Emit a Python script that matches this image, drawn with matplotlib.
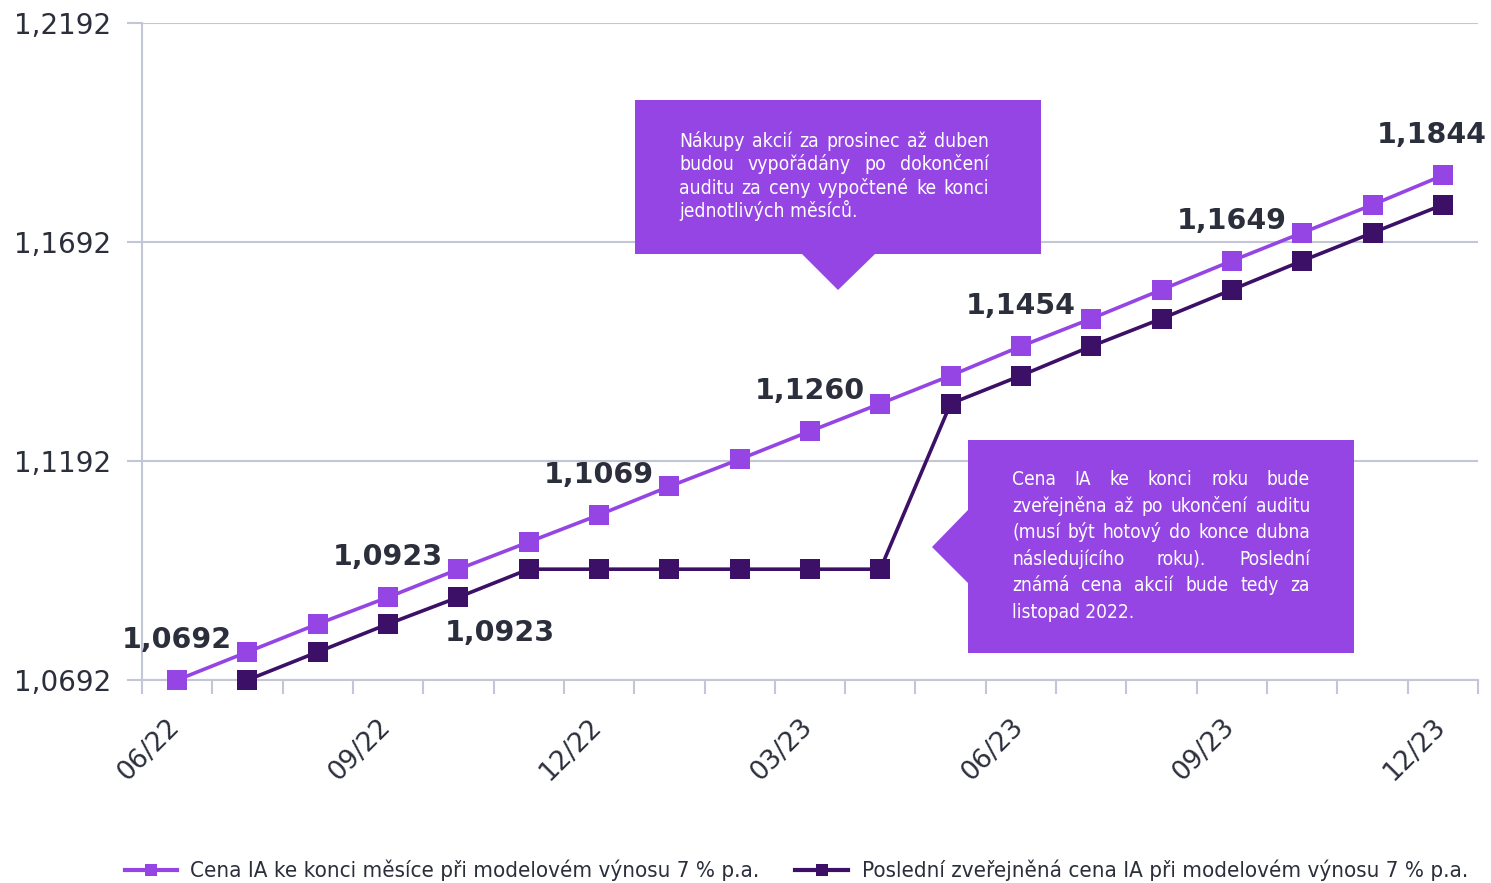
import numpy as np
import matplotlib
matplotlib.use('Agg')
import matplotlib.pyplot as plt
from matplotlib.patches import Polygon
from matplotlib.lines import Line2D
import matplotlib.transforms as mtransforms
from matplotlib import font_manager

# ---------------- data ----------------
months = ['06/22', '07/22', '08/22', '09/22', '10/22', '11/22', '12/22',
          '01/23', '02/23', '03/23', '04/23', '05/23', '06/23', '07/23',
          '08/23', '09/23', '10/23', '11/23', '12/23']
price_month_end = [1.0692, 1.0756, 1.0820, 1.0881, 1.0945, 1.1007, 1.1069,
                   1.1134, 1.1196, 1.1260, 1.1323, 1.1387, 1.1454, 1.1517,
                   1.1583, 1.1649, 1.1713, 1.1777, 1.1844]
price_last_published = [np.nan, 1.0692, 1.0756, 1.0820, 1.0881, 1.0945, 1.0945,
                        1.0945, 1.0945, 1.0945, 1.0945, 1.1323, 1.1387, 1.1454,
                        1.1517, 1.1583, 1.1649, 1.1713, 1.1777]
upper_label_idx = [0, 3, 6, 9, 12, 15, 18]
upper_label_text = ['1,0692', '1,0923', '1,1069', '1,1260', '1,1454', '1,1649', '1,1844']
lower_label_idx = [4]
lower_label_text = ['1,0923']
y_ticks = [1.0692, 1.1192, 1.1692, 1.2192]
x_label_idx = [0, 3, 6, 9, 12, 15, 18]
series_names = ['Cena IA ke konci měsíce při modelovém výnosu 7 % p.a.',
                'Poslední zveřejněná cena IA při modelovém výnosu 7 % p.a.']
note1_lines = ['Nákupy akcií za prosinec až duben',
               'budou vypořádány po dokončení',
               'auditu za ceny vypočtené ke konci',
               'jednotlivých měsíců.']
note2_lines = ['Cena IA ke konci roku bude',
               'zveřejněna až po ukončení auditu',
               '(musí být hotový do konce dubna',
               'následujícího roku). Poslední',
               'známá cena akcií bude tedy za',
               'listopad 2022.']

# ---------------- style ----------------
C1 = '#9445E3'
C2 = '#3D1068'
BOX = '#9445E3'
GRID = '#C3C6D6'
TXT = '#2B2F3B'

plt.rcParams['font.family'] = ['DejaVu Sans']

W, H = 1491, 883
fig = plt.figure(figsize=(W / 100, H / 100), dpi=100)
fig.patch.set_facecolor('white')


def fx(x):
    return x / W


def fy(y):
    return 1 - y / H


has_cond = any(f.name == 'DejaVu Sans' and f.stretch == 'condensed'
               for f in font_manager.fontManager.ttflist)
stretch = 'condensed' if has_cond else 'normal'

ax = fig.add_axes([fx(142), fy(680), (1478 - 142) / W, (680 - 23) / H])
x = np.arange(len(months))

ax.plot(x, price_month_end, color=C1, lw=2.6, marker='s', ms=14, mew=0,
        clip_on=False, zorder=4)
ax.plot(x, price_last_published, color=C2, lw=2.6, marker='s', ms=14, mew=0,
        clip_on=False, zorder=4)

ax.set_xlim(-0.5, len(months) - 0.5)
ax.set_ylim(y_ticks[0], y_ticks[-1])
ax.set_yticks(y_ticks)
ax.set_yticklabels([f'{v:.4f}'.replace('.', ',') for v in y_ticks])
ax.yaxis.grid(True, color=GRID, lw=1.5, zorder=0)
ax.set_axisbelow(True)
ax.tick_params(axis='y', length=11, width=1.5, color=GRID, pad=11,
               labelsize=20, labelcolor=TXT)

ax.set_xticks(x_label_idx)
ax.set_xticklabels([months[i] for i in x_label_idx], rotation=45,
                   ha='right', va='top')
ax.set_xticks(np.arange(-0.5, len(months), 1.0), minor=True)
ax.tick_params(axis='x', which='major', length=0, pad=24, labelsize=19,
               labelcolor=TXT)
ax.tick_params(axis='x', which='minor', length=10, width=1.5, color=GRID)
offset = mtransforms.ScaledTranslation(8 / 100, 0, fig.dpi_scale_trans)
for lab in ax.get_xticklabels():
    lab.set_transform(lab.get_transform() + offset)

for s in ['top', 'right']:
    ax.spines[s].set_visible(False)
for s in ['left', 'bottom']:
    ax.spines[s].set_color(GRID)
    ax.spines[s].set_linewidth(1.5)

# data labels
for i, t in zip(upper_label_idx, upper_label_text):
    dx = -8 if i == len(months) - 1 else 0
    ax.annotate(t, (x[i], price_month_end[i]), xytext=(dx, 29),
                textcoords='offset points', ha='center', va='center',
                fontsize=20.5, fontweight='bold', color=TXT, zorder=6,
                annotation_clip=False)
for i, t in zip(lower_label_idx, lower_label_text):
    ax.annotate(t, (x[i], price_last_published[i]), xytext=(30, -26),
                textcoords='offset points', ha='center', va='center',
                fontsize=20.5, fontweight='bold', color=TXT, zorder=6,
                annotation_clip=False)

# ---------------- callout boxes ----------------
box1 = [(635, 100), (1041, 100), (1041, 254), (875, 254), (838, 290),
        (802, 254), (635, 254)]
box2 = [(968, 440), (1354, 440), (1354, 653), (968, 653), (968, 583),
        (932, 547), (968, 510)]
for pts in (box1, box2):
    fig.add_artist(Polygon([(fx(a), fy(b)) for a, b in pts], closed=True,
                           transform=fig.transFigure, facecolor=BOX,
                           edgecolor='none', zorder=5))

renderer = fig.canvas.get_renderer()


def natural_width(text, size):
    t = fig.text(0, 0, text, fontsize=size, fontstretch=stretch)
    w = t.get_window_extent(renderer).width
    t.remove()
    return w


def justified(lines, x0, x1, yb0, dy, maxsize):
    avail = x1 - x0
    widest = max(natural_width(l, 10) for l in lines[:-1])
    size = min(maxsize, 10 * avail * 0.97 / widest)
    for i, line in enumerate(lines):
        yb = yb0 + i * dy
        words = line.split(' ')
        if i == len(lines) - 1 or len(words) == 1:
            fig.text(fx(x0), fy(yb), line, fontsize=size, fontstretch=stretch,
                     color='white', va='baseline', ha='left', zorder=6)
            continue
        ts = [fig.text(0, fy(yb), w, fontsize=size, fontstretch=stretch,
                       color='white', va='baseline', ha='left', zorder=6)
              for w in words]
        widths = [t.get_window_extent(renderer).width for t in ts]
        gap = (avail - sum(widths)) / (len(words) - 1)
        xx = x0
        for t, w in zip(ts, widths):
            t.set_x(fx(xx))
            xx += w + gap


justified(note1_lines, 679, 989, 147, 23.3, 15)
justified(note2_lines, 1012, 1310, 485, 26.6, 15)

# ---------------- legend ----------------
leg_y = 870
leg_size = 16 if has_cond else 14.3
for (xa, xb, xt), col, name in zip([(125, 177, 190), (795, 848, 862)],
                                   [C1, C2], series_names):
    fig.add_artist(Line2D([fx(xa), fx(xb)], [fy(leg_y), fy(leg_y)],
                          transform=fig.transFigure, color=col, lw=3))
    fig.add_artist(Line2D([fx((xa + xb) / 2)], [fy(leg_y)],
                          transform=fig.transFigure, color=col, marker='s',
                          ms=8, mew=0, lw=0))
    fig.text(fx(xt), fy(leg_y), name, fontsize=leg_size, fontstretch=stretch,
             color=TXT, va='center', ha='left')

fig.savefig('out.png', dpi=100, facecolor='white')
